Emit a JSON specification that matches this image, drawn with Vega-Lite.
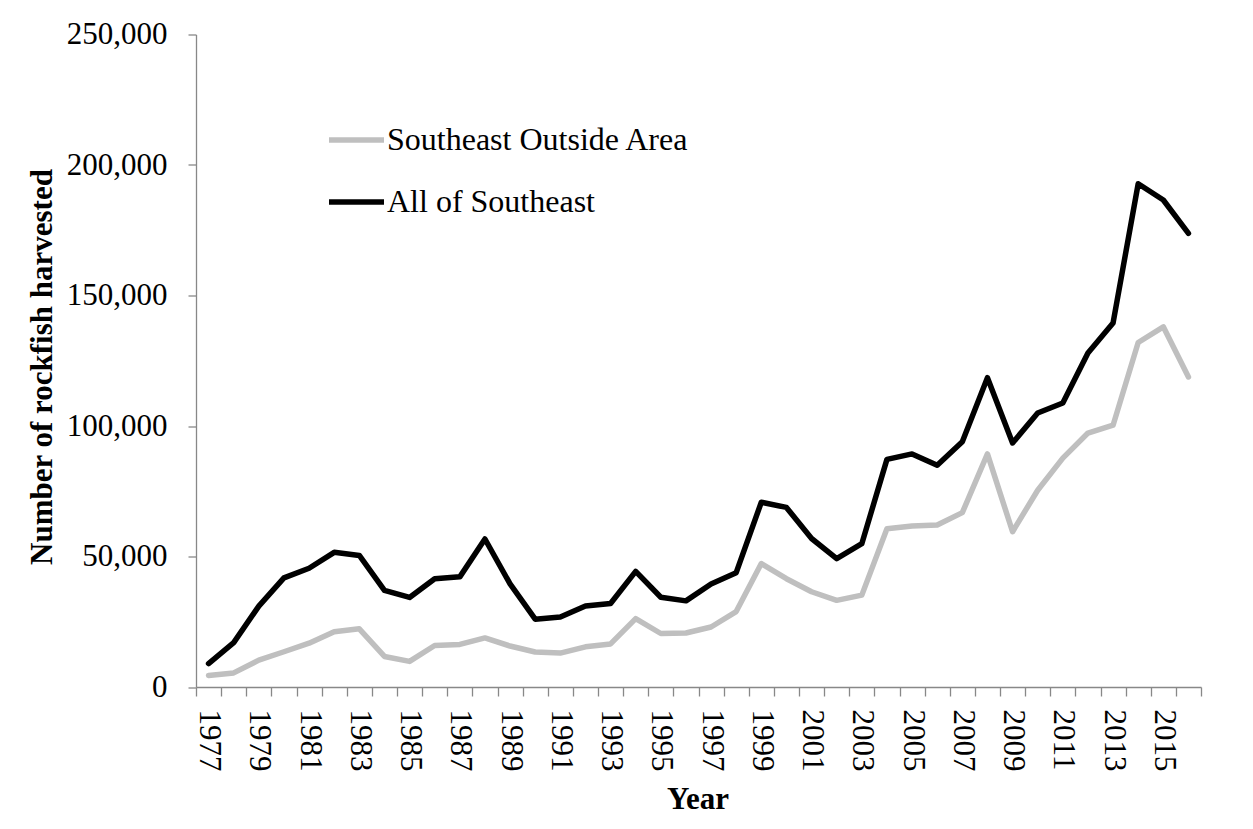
{
  "$schema": "https://vega.github.io/schema/vega-lite/v6.json",
  "autosize": {"type": "none"},
  "padding": {"left": 196, "top": 34.5, "right": 52, "bottom": 142},
  "width": 1005,
  "height": 652.5,
  "background": "white",
  "config": {
    "view": {"stroke": null},
    "font": "Liberation Serif"
  },
  "data": {
    "values": [
      {"year": 1977, "series": "All of Southeast", "value": 9000},
      {"year": 1978, "series": "All of Southeast", "value": 17000},
      {"year": 1979, "series": "All of Southeast", "value": 31000},
      {"year": 1980, "series": "All of Southeast", "value": 41800},
      {"year": 1981, "series": "All of Southeast", "value": 45500},
      {"year": 1982, "series": "All of Southeast", "value": 51600},
      {"year": 1983, "series": "All of Southeast", "value": 50400},
      {"year": 1984, "series": "All of Southeast", "value": 37000},
      {"year": 1985, "series": "All of Southeast", "value": 34300},
      {"year": 1986, "series": "All of Southeast", "value": 41500},
      {"year": 1987, "series": "All of Southeast", "value": 42200},
      {"year": 1988, "series": "All of Southeast", "value": 56700},
      {"year": 1989, "series": "All of Southeast", "value": 39500},
      {"year": 1990, "series": "All of Southeast", "value": 26000},
      {"year": 1991, "series": "All of Southeast", "value": 26800},
      {"year": 1992, "series": "All of Southeast", "value": 31000},
      {"year": 1993, "series": "All of Southeast", "value": 32000},
      {"year": 1994, "series": "All of Southeast", "value": 44300},
      {"year": 1995, "series": "All of Southeast", "value": 34400},
      {"year": 1996, "series": "All of Southeast", "value": 33000},
      {"year": 1997, "series": "All of Southeast", "value": 39500},
      {"year": 1998, "series": "All of Southeast", "value": 43800},
      {"year": 1999, "series": "All of Southeast", "value": 70800},
      {"year": 2000, "series": "All of Southeast", "value": 68800},
      {"year": 2001, "series": "All of Southeast", "value": 56900},
      {"year": 2002, "series": "All of Southeast", "value": 49200},
      {"year": 2003, "series": "All of Southeast", "value": 54900},
      {"year": 2004, "series": "All of Southeast", "value": 87200},
      {"year": 2005, "series": "All of Southeast", "value": 89300},
      {"year": 2006, "series": "All of Southeast", "value": 85000},
      {"year": 2007, "series": "All of Southeast", "value": 94000},
      {"year": 2008, "series": "All of Southeast", "value": 118500},
      {"year": 2009, "series": "All of Southeast", "value": 93500},
      {"year": 2010, "series": "All of Southeast", "value": 105000},
      {"year": 2011, "series": "All of Southeast", "value": 108800},
      {"year": 2012, "series": "All of Southeast", "value": 128000},
      {"year": 2013, "series": "All of Southeast", "value": 139500},
      {"year": 2014, "series": "All of Southeast", "value": 192800},
      {"year": 2015, "series": "All of Southeast", "value": 186600},
      {"year": 2016, "series": "All of Southeast", "value": 173800},
      {"year": 1977, "series": "Southeast Outside Area", "value": 4400},
      {"year": 1978, "series": "Southeast Outside Area", "value": 5400},
      {"year": 1979, "series": "Southeast Outside Area", "value": 10300},
      {"year": 1980, "series": "Southeast Outside Area", "value": 13500},
      {"year": 1981, "series": "Southeast Outside Area", "value": 16800},
      {"year": 1982, "series": "Southeast Outside Area", "value": 21200},
      {"year": 1983, "series": "Southeast Outside Area", "value": 22300},
      {"year": 1984, "series": "Southeast Outside Area", "value": 11700},
      {"year": 1985, "series": "Southeast Outside Area", "value": 9800},
      {"year": 1986, "series": "Southeast Outside Area", "value": 15900},
      {"year": 1987, "series": "Southeast Outside Area", "value": 16300},
      {"year": 1988, "series": "Southeast Outside Area", "value": 18800},
      {"year": 1989, "series": "Southeast Outside Area", "value": 15700},
      {"year": 1990, "series": "Southeast Outside Area", "value": 13400},
      {"year": 1991, "series": "Southeast Outside Area", "value": 13000},
      {"year": 1992, "series": "Southeast Outside Area", "value": 15400},
      {"year": 1993, "series": "Southeast Outside Area", "value": 16500},
      {"year": 1994, "series": "Southeast Outside Area", "value": 26200},
      {"year": 1995, "series": "Southeast Outside Area", "value": 20500},
      {"year": 1996, "series": "Southeast Outside Area", "value": 20700},
      {"year": 1997, "series": "Southeast Outside Area", "value": 23000},
      {"year": 1998, "series": "Southeast Outside Area", "value": 28900},
      {"year": 1999, "series": "Southeast Outside Area", "value": 47300},
      {"year": 2000, "series": "Southeast Outside Area", "value": 41500},
      {"year": 2001, "series": "Southeast Outside Area", "value": 36500},
      {"year": 2002, "series": "Southeast Outside Area", "value": 33200},
      {"year": 2003, "series": "Southeast Outside Area", "value": 35200},
      {"year": 2004, "series": "Southeast Outside Area", "value": 60600},
      {"year": 2005, "series": "Southeast Outside Area", "value": 61700},
      {"year": 2006, "series": "Southeast Outside Area", "value": 62100},
      {"year": 2007, "series": "Southeast Outside Area", "value": 66800},
      {"year": 2008, "series": "Southeast Outside Area", "value": 89300},
      {"year": 2009, "series": "Southeast Outside Area", "value": 59500},
      {"year": 2010, "series": "Southeast Outside Area", "value": 75400},
      {"year": 2011, "series": "Southeast Outside Area", "value": 87700},
      {"year": 2012, "series": "Southeast Outside Area", "value": 97300},
      {"year": 2013, "series": "Southeast Outside Area", "value": 100300},
      {"year": 2014, "series": "Southeast Outside Area", "value": 132000},
      {"year": 2015, "series": "Southeast Outside Area", "value": 138000},
      {"year": 2016, "series": "Southeast Outside Area", "value": 118800}
    ]
  },
  "mark": {"type": "line", "strokeWidth": 5.5, "strokeCap": "round", "strokeJoin": "round"},
  "encoding": {
    "x": {
      "field": "year",
      "type": "quantitative",
      "scale": {"domain": [1976.5, 2016.5], "nice": false, "zero": false},
      "axis": {
        "title": "Year",
        "values": [1976.5, 1977.5, 1978.5, 1979.5, 1980.5, 1981.5, 1982.5, 1983.5, 1984.5, 1985.5, 1986.5, 1987.5, 1988.5, 1989.5, 1990.5, 1991.5, 1992.5, 1993.5, 1994.5, 1995.5, 1996.5, 1997.5, 1998.5, 1999.5, 2000.5, 2001.5, 2002.5, 2003.5, 2004.5, 2005.5, 2006.5, 2007.5, 2008.5, 2009.5, 2010.5, 2011.5, 2012.5, 2013.5, 2014.5, 2015.5, 2016.5],
        "labelExpr": "((datum.value + 0.5) % 2 == 1 && datum.value < 2016) ? toString(datum.value + 0.5) : ''",
        "labelOffset": 12.56,
        "labelAngle": 90,
        "labelAlign": "left",
        "labelBaseline": "middle",
        "labelPadding": 13,
        "labelOverlap": false,
        "labelFlush": false,
        "labelBound": false,
        "labelFont": "Liberation Serif",
        "labelFontSize": 31,
        "labelColor": "#000000",
        "tickSize": 9,
        "tickColor": "#888888",
        "tickWidth": 1.3,
        "domainColor": "#888888",
        "domainWidth": 1.3,
        "grid": false,
        "titleFont": "Liberation Serif",
        "titleFontSize": 31,
        "titleFontWeight": "bold",
        "titleColor": "#000000",
        "titleX": 501.5,
        "titleY": 121,
        "titleAlign": "center",
        "titleBaseline": "alphabetic",
        "titleAngle": 0
      }
    },
    "y": {
      "field": "value",
      "type": "quantitative",
      "scale": {"domain": [0, 250000], "nice": false},
      "axis": {
        "title": "Number of rockfish harvested",
        "values": [0, 50000, 100000, 150000, 200000, 250000],
        "format": ",.0f",
        "labelFont": "Liberation Serif",
        "labelFontSize": 31,
        "labelColor": "#000000",
        "labelPadding": 21,
        "labelBaseline": "middle",
        "labelOverlap": false,
        "labelFlush": false,
        "tickSize": 8,
        "tickColor": "#888888",
        "tickWidth": 1.3,
        "domainColor": "#888888",
        "domainWidth": 1.3,
        "grid": false,
        "titleFont": "Liberation Serif",
        "titleFontSize": 31,
        "titleFontWeight": "bold",
        "titleColor": "#000000",
        "titleAngle": -90,
        "titleX": -145,
        "titleY": 332,
        "titleAlign": "center",
        "titleBaseline": "alphabetic"
      }
    },
    "color": {
      "field": "series",
      "type": "nominal",
      "scale": {"domain": ["Southeast Outside Area", "All of Southeast"], "range": ["#BFBFBF", "#000000"]},
      "legend": {
        "title": null,
        "orient": "none",
        "legendX": 130,
        "legendY": 75,
        "padding": 0,
        "symbolType": "stroke",
        "symbolSize": 3025,
        "symbolStrokeWidth": 5.5,
        "labelFont": "Liberation Serif",
        "labelFontSize": 32,
        "labelColor": "#000000",
        "labelOffset": 0,
        "rowPadding": 15,
        "labelLimit": 600
      }
    },
    "order": {"field": "series", "sort": "descending"}
  }
}
